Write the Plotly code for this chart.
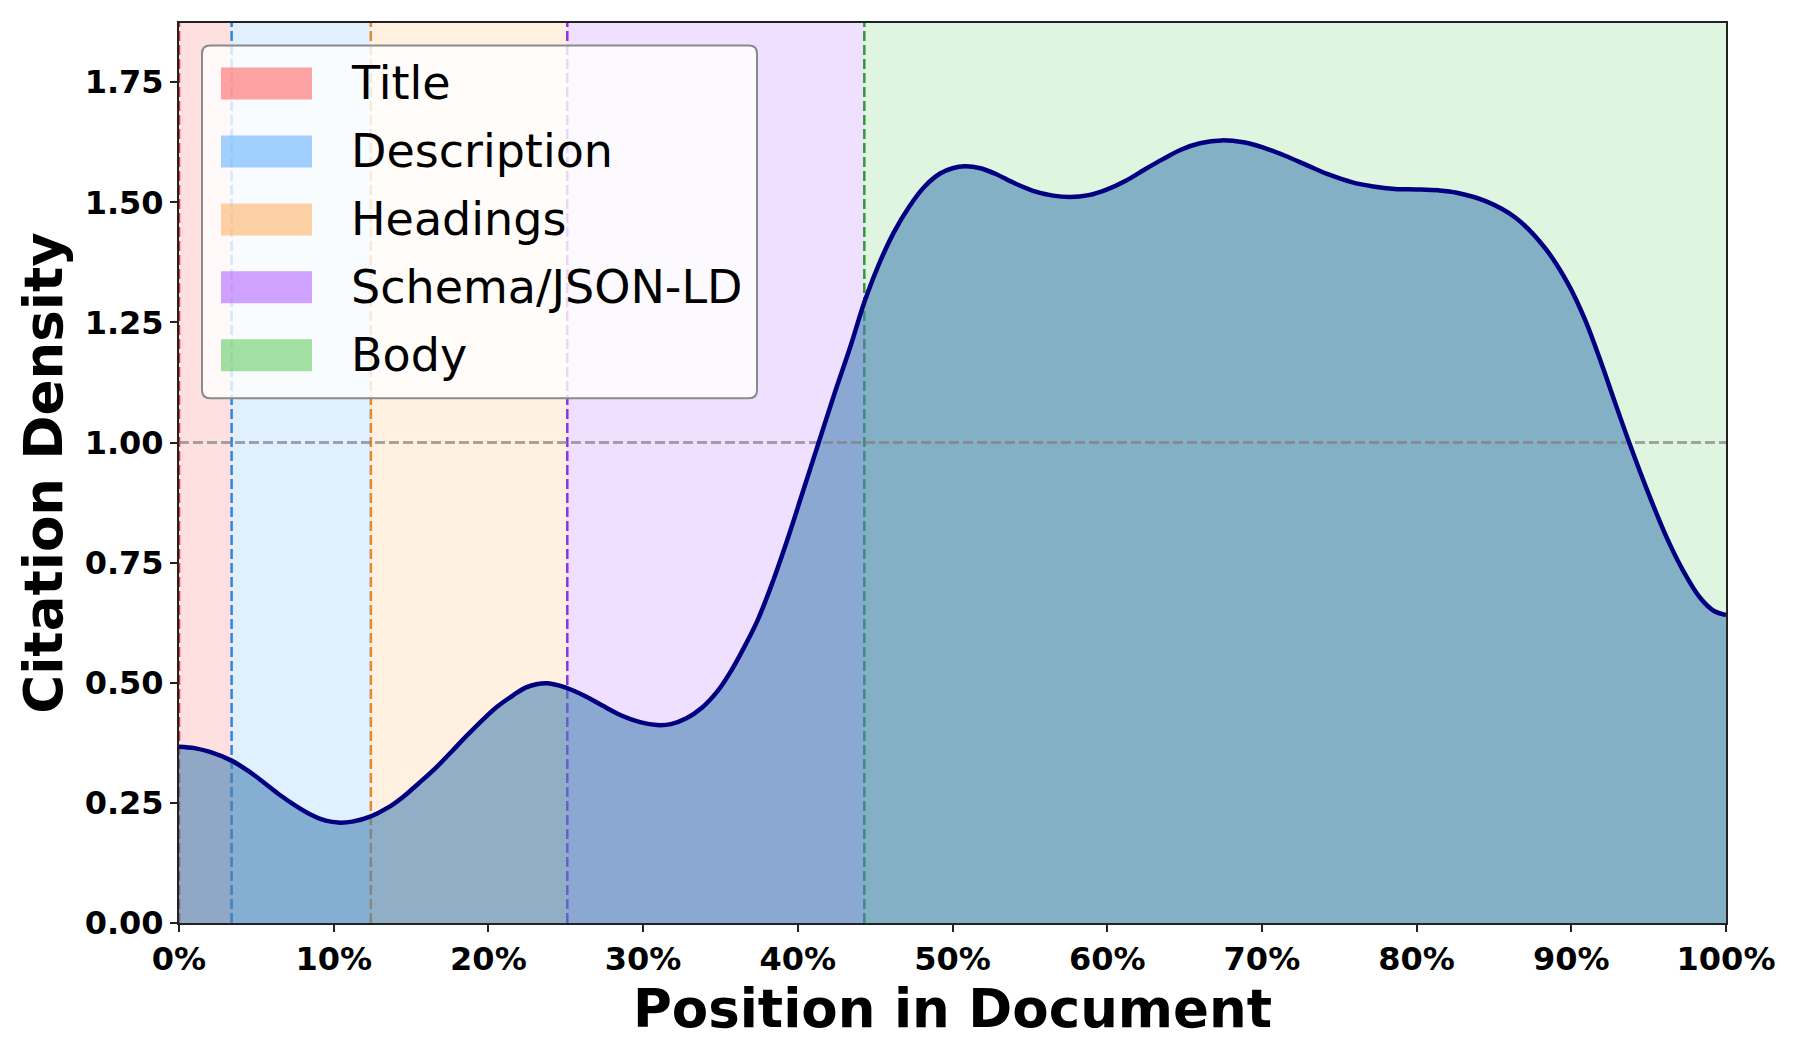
import plotly.graph_objects as go

# KDE of citation positions (x in % of document)
position = [0, 1, 2, 3.4, 4.5, 5.5, 6.5, 7.5, 8.5, 9.5, 10.3, 11.2, 12.4, 13.5,
            14.5, 15.5, 16.6, 17.6, 18.6, 19.6, 20.6, 21.6, 22.4, 23.1, 23.8,
            24.6, 25.4, 26.4, 27.4, 28.6, 29.8, 30.9, 31.8, 32.8, 33.8, 34.8,
            35.6, 36.4, 37.4, 38.4, 39.4, 40.3, 41.3, 42.3, 43.4, 44.3, 45.2,
            46.2, 47.2, 48.2, 49.2, 50.0, 50.8, 51.8, 52.8, 54.0, 55.2, 56.5,
            57.6, 58.8, 60.0, 61.2, 62.4, 63.6, 64.8, 66.0, 67.4, 68.8, 70.1,
            71.5, 73.0, 74.4, 75.8, 77.2, 78.6, 80.0, 81.4, 82.6, 84.5, 86.4,
            88.3, 89.8, 90.9, 92.0, 92.7, 93.8, 95.1, 96.2, 97.2, 98.3, 99.2, 100]
density = [0.367, 0.364, 0.356, 0.338, 0.316, 0.292, 0.267, 0.245, 0.226, 0.213,
           0.209, 0.211, 0.222, 0.240, 0.263, 0.291, 0.323, 0.356, 0.390, 0.422,
           0.451, 0.474, 0.490, 0.497, 0.499, 0.494, 0.485, 0.470, 0.452, 0.432,
           0.418, 0.412, 0.414, 0.426, 0.448, 0.482, 0.520, 0.566, 0.630, 0.712,
           0.805, 0.895, 0.995, 1.095, 1.200, 1.292, 1.368, 1.437, 1.491, 1.533,
           1.560, 1.571, 1.575, 1.571, 1.559, 1.540, 1.524, 1.514, 1.511, 1.515,
           1.527, 1.545, 1.568, 1.590, 1.610, 1.623, 1.629, 1.625, 1.614, 1.597,
           1.576, 1.557, 1.542, 1.533, 1.528, 1.527, 1.525, 1.520, 1.502, 1.468,
           1.405, 1.330, 1.255, 1.160, 1.095, 0.995, 0.885, 0.800, 0.735, 0.678,
           0.650, 0.641]

regions = ['Title', 'Description', 'Headings', 'Schema/JSON-LD', 'Body']
region_start = [0, 3.4, 12.4, 25.1, 44.3]
region_end = [3.4, 12.4, 25.1, 44.3, 100]
band_rgb = ['255,102,102', '102,179,255', '255,179,102', '179,102,255', '102,204,102']
line_colors = ['#dd3333', '#3385d6', '#e08a33', '#8c33e6', '#339933']

uniform_density = 1.0
y_max = max(density) * 1.15
x_ticks = list(range(0, 101, 10))
x_labels = [f'{v}%' for v in x_ticks]
y_ticks = [0, 0.25, 0.5, 0.75, 1.0, 1.25, 1.5, 1.75]

fig = go.Figure()

# filled area under the curve
fig.add_trace(go.Scatter(
    x=position, y=density, mode='lines', fill='tozeroy',
    fillcolor='rgba(70,130,180,0.6)',
    line=dict(width=0, shape='spline', smoothing=1),
    showlegend=False, hoverinfo='skip'))

# uniform reference line
fig.add_trace(go.Scatter(
    x=[0, 100], y=[uniform_density, uniform_density], mode='lines',
    line=dict(color='rgba(128,128,128,0.7)', width=3, dash='10px,4px'),
    showlegend=False, hoverinfo='skip'))

# the density curve itself
fig.add_trace(go.Scatter(
    x=position, y=density, mode='lines',
    line=dict(color='#000080', width=4.5, shape='spline', smoothing=1),
    showlegend=False))

# region bands and their start markers
for s, e, rgb, lc in zip(region_start, region_end, band_rgb, line_colors):
    fig.add_shape(type='rect', xref='x', yref='paper', x0=s, x1=e, y0=0, y1=1,
                  fillcolor=f'rgba({rgb},0.2)', line_width=0, layer='below')
    fig.add_shape(type='line', xref='x', yref='paper', x0=s, x1=s, y0=0, y1=1,
                  line=dict(color=lc, width=2.5, dash='10px,4px'), layer='below')

# legend box, drawn by hand so the patches can be wide like the original
plot_w, plot_h = 1547, 900.5
bx0, bx1 = 23 / plot_w, 578 / plot_w
by0, by1 = 1 - 375.5 / plot_h, 1 - 22.5 / plot_h
rx, ry = 8 / plot_w, 8 / plot_h
box = (f'M {bx0+rx},{by0} L {bx1-rx},{by0} Q {bx1},{by0} {bx1},{by0+ry} '
       f'L {bx1},{by1-ry} Q {bx1},{by1} {bx1-rx},{by1} L {bx0+rx},{by1} '
       f'Q {bx0},{by1} {bx0},{by1-ry} L {bx0},{by0+ry} Q {bx0},{by0} {bx0+rx},{by0} Z')
fig.add_shape(type='path', xref='paper', yref='paper', path=box,
              fillcolor='rgba(255,255,255,0.8)', line=dict(color='#8a8a8a', width=2),
              layer='above')
for i, (name, rgb) in enumerate(zip(regions, band_rgb)):
    yc = 1 - (60.5 + 68 * i) / plot_h
    fig.add_shape(type='rect', xref='paper', yref='paper',
                  x0=42 / plot_w, x1=133 / plot_w,
                  y0=yc - 16 / plot_h, y1=yc + 16 / plot_h,
                  fillcolor=f'rgba({rgb},0.6)', line_width=0, layer='above')
    fig.add_annotation(text=name, xref='paper', yref='paper', x=170 / plot_w, y=yc,
                       xanchor='left', yanchor='middle', showarrow=False,
                       font=dict(family='DejaVu Sans', size=46, color='black'))

tick_font = dict(family='DejaVu Sans', size=32, color='black', weight='bold')
title_font = dict(family='DejaVu Sans', size=53, color='black', weight='bold')
axis_common = dict(showline=True, mirror=True, linecolor='#222222', linewidth=2,
                   ticks='outside', ticklen=7, tickwidth=2, tickcolor='#222222',
                   showgrid=False, zeroline=False, tickfont=tick_font)

fig.update_xaxes(range=[0, 100], tickvals=x_ticks, ticktext=x_labels,
                 title=dict(text='Position in Document', font=title_font, standoff=2),
                 **axis_common)
fig.update_yaxes(range=[0, y_max], tickvals=y_ticks, tickformat='.2f',
                 title=dict(text='Citation Density', font=title_font, standoff=5),
                 **axis_common)

# page body adds an 8px offset, margins compensate for it
fig.update_layout(width=1800, height=1050,
                  margin=dict(l=171, r=82, t=14.5, b=135),
                  plot_bgcolor='white', paper_bgcolor='white',
                  showlegend=False)

fig.write_html('out.html')
